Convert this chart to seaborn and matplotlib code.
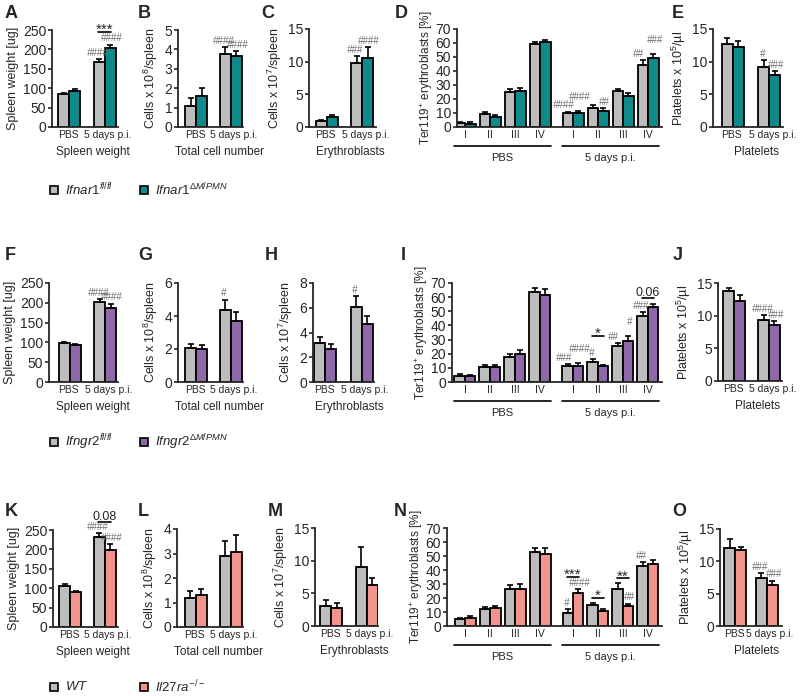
import numpy as np
import pandas as pd
import matplotlib
matplotlib.use("Agg")
import matplotlib.pyplot as plt
from matplotlib.patches import Rectangle
from matplotlib.transforms import blended_transform_factory, ScaledTranslation
import seaborn as sns

sns.set_style("ticks")
plt.rcParams["font.family"] = ["Liberation Sans", "DejaVu Sans"]
plt.rcParams["mathtext.fontset"] = "custom"
plt.rcParams["mathtext.rm"] = "Liberation Sans"
plt.rcParams["mathtext.it"] = "Liberation Sans:italic"
plt.rcParams["mathtext.default"] = "regular"

# ---------------- data (mean, sem) ----------------
groups = ["PBS", "5 days p.i."]
stages = ["I", "II", "III", "IV"]

# row 1 : Ifnar1
a_ctrl, a_ctrl_sem, a_ko, a_ko_sem = [85, 167], [3, 8], [94, 204], [5, 8]
b_ctrl, b_ctrl_sem, b_ko, b_ko_sem = [1.1, 3.75], [0.4, 0.35], [1.6, 3.65], [0.42, 0.25]
c_ctrl, c_ctrl_sem, c_ko, c_ko_sem = [0.9, 9.8], [0.2, 1.1], [1.5, 10.5], [0.3, 1.7]
d_ctrl = [3.0, 9.0, 25, 59, 10, 13.5, 26, 44.3]
d_ctrl_sem = [0.8, 2, 2.5, 1.5, 1, 2.5, 1.2, 3.5]
d_ko = [2.5, 6.8, 25.5, 61, 10.3, 11.5, 22.5, 49.5]
d_ko_sem = [0.8, 1.5, 2.5, 1.5, 1, 2, 1.5, 2.5]
e_ctrl, e_ctrl_sem, e_ko, e_ko_sem = [12.7, 9.2], [0.9, 1.0], [12.2, 8.0], [0.9, 0.6]

# row 2 : Ifngr2
f_ctrl, f_ctrl_sem, f_ko, f_ko_sem = [98, 201], [4, 8], [93, 188], [3, 10]
g_ctrl, g_ctrl_sem, g_ko, g_ko_sem = [2.05, 4.35], [0.25, 0.65], [2.0, 3.7], [0.25, 0.55]
h_ctrl, h_ctrl_sem, h_ko, h_ko_sem = [3.15, 6.1], [0.45, 0.85], [2.65, 4.7], [0.4, 0.65]
i_ctrl = [4.5, 10.5, 17.5, 63.5, 11, 14, 25.5, 47]
i_ctrl_sem = [1, 1.5, 2.5, 3, 1.5, 2, 2, 2.5]
i_ko = [4, 10.5, 19.5, 61.5, 11.5, 11, 29, 53]
i_ko_sem = [1, 1.5, 3, 4, 2, 1, 3.5, 2.5]
j_ctrl, j_ctrl_sem, j_ko, j_ko_sem = [13.8, 9.3], [0.5, 0.8], [12.3, 8.6], [0.8, 0.6]

# row 3 : Il27ra
k_ctrl, k_ctrl_sem, k_ko, k_ko_sem = [106, 231], [4, 10], [90, 199], [4, 14]
l_ctrl, l_ctrl_sem, l_ko, l_ko_sem = [1.2, 2.9], [0.25, 0.6], [1.3, 3.05], [0.27, 0.7]
m_ctrl, m_ctrl_sem, m_ko, m_ko_sem = [3.1, 9.1], [0.85, 3.0], [2.8, 6.3], [0.7, 1.1]
n_ctrl = [5, 12, 26.5, 53, 9.2, 15.2, 26.5, 42.8]
n_ctrl_sem = [1, 1.5, 2.5, 2.5, 3, 1.5, 4, 3]
n_ko = [6, 13, 26.5, 51.5, 23.3, 10.8, 14.4, 44.5]
n_ko_sem = [1.5, 1.5, 3.5, 4, 3, 1.2, 1.5, 2.5]
o_ctrl, o_ctrl_sem, o_ko, o_ko_sem = [12.1, 7.5], [1.3, 0.7], [11.7, 6.3], [0.5, 0.7]

# significance marks (# vs PBS, * between genotypes)
hash2_4 = (["", "####"], ["", "####"])
c_hash = (["", "###"], ["", "####"])
d_hash = (["", "", "", "", "####", "", "", "##"], ["", "", "", "", "####", "##", "", "###"])
e_hash = (["", "#"], ["", "###"])
g_hash = (["", "#"], ["", ""])
i_hash = (["", "", "", "", "###", "#", "##", "###"], ["", "", "", "", "####", "", "#", ""])
j_hash = (["", "####"], ["", "###"])
n_hash = (["", "", "", "", "#", "", "", "##"], ["", "", "", "", "####", "", "##", ""])
o_hash = (["", "###"], ["", "###"])

# ---------------- style ----------------
W, H = 800, 696
GRAY = "#bdbdbd"
TEAL = "#0e8a8b"
PURPLE = "#8e68a8"
SALMON = "#f2948d"
HASHC = "#6e6e6e"

fig = plt.figure(figsize=(8, 6.96), dpi=100)


def box(l, t, r, b):
    return fig.add_axes([l / W, 1 - b / H, (r - l) / W, (b - t) / H])


def style(ax, ymax, ystep, ylabel, pad=3, ylsize=9):
    ax.set_ylim(0, ymax)
    ax.set_yticks(np.arange(0, ymax + ystep / 2, ystep))
    ax.set_ylabel(ylabel, fontsize=ylsize, labelpad=pad)
    sns.despine(ax=ax)
    for s in ["left", "bottom"]:
        ax.spines[s].set_linewidth(1.3)
    ax.tick_params(axis="y", labelsize=10, length=3, width=1.2, pad=1.2)
    ax.tick_params(axis="x", length=0, pad=2.5, labelsize=7.5)


def bars(ax, x, ctrl, ctrl_sem, ko, ko_sem, color, width, native):
    df = pd.DataFrame({"x": list(x) * 2,
                       "geno": ["ctrl"] * len(x) + ["ko"] * len(x),
                       "val": list(ctrl) + list(ko)})
    sns.barplot(data=df, x="x", y="val", hue="geno", hue_order=["ctrl", "ko"],
                order=None if native else list(x), native_scale=native,
                palette=[GRAY, color], width=width, errorbar=None,
                edgecolor="black", linewidth=1.3, saturation=1, legend=False, ax=ax)
    conts = list(ax.containers)[:2]
    out = []
    for cont, err in zip(conts, [ctrl_sem, ko_sem]):
        cx = [b.get_x() + b.get_width() / 2 for b in cont]
        hs = [b.get_height() for b in cont]
        ax.errorbar(cx, hs, yerr=[np.zeros(len(err)), err], fmt="none", ecolor="black",
                    elinewidth=1.2, capsize=2.5, capthick=1.2, clip_on=False)
        out.append((cx, [h + e for h, e in zip(hs, err)]))
    return out


def marks(ax, tops, hashes, close):
    (cx0, t0), (cx1, t1) = tops
    for i in range(len(cx0)):
        both = hashes[0][i] and hashes[1][i] and abs(t1[i] - t0[i]) < close
        if hashes[0][i]:
            ax.annotate(hashes[0][i], (cx0[i], t0[i]), xytext=(-3 if both else -1, 4.5),
                        textcoords="offset points", ha="center", va="center", fontsize=7,
                        color=HASHC, style="italic", annotation_clip=False)
        if hashes[1][i]:
            ax.annotate(hashes[1][i], (cx1[i], t1[i]), xytext=(1, 10 if both else 4.5),
                        textcoords="offset points", ha="center", va="center", fontsize=7,
                        color=HASHC, style="italic", annotation_clip=False)


def bracket(ax, tops, idx, label, y):
    (cx0, _), (cx1, _) = tops
    x0, x1 = cx0[idx], cx1[idx]
    ax.plot([x0 - 0.04, x1 + 0.02], [y, y], color="black", lw=1.2, clip_on=False)
    digit = label[0].isdigit()
    ax.annotate(label, ((x0 + x1) / 2, y), xytext=(0, 1.5 if digit else -1.5),
                textcoords="offset points", ha="center", va="baseline",
                fontsize=9 if digit else 11, annotation_clip=False)


def two_group(lay, ctrl, ctrl_sem, ko, ko_sem, color, ymax, ystep, ylabel, xlabel,
              hashes=None, brackets=()):
    left, pc, dc, right, top, bot = lay
    unit = dc - pc
    ax = box(left, top, right, bot)
    tops = bars(ax, groups, ctrl, ctrl_sem, ko, ko_sem, color, 22 / unit, False)
    ax.set_xlim(-(pc - left) / unit, 1 + (right - dc) / unit)
    style(ax, ymax, ystep, ylabel)
    ax.set_xlabel(xlabel, fontsize=8.5)
    ax.xaxis.set_label_coords(((pc + dc) / 2 + 6 - left) / (right - left), -25 / (bot - top))
    ax.xaxis.label.set_va("center")
    # the long label sits a little right of its bars
    labs = ax.get_xticklabels()
    labs[0].set_transform(labs[0].get_transform() + ScaledTranslation(-0.01, 0, fig.dpi_scale_trans))
    labs[1].set_transform(labs[1].get_transform() + ScaledTranslation(0.035, 0, fig.dpi_scale_trans))
    if hashes:
        marks(ax, tops, hashes, 0)
    for idx, lab, y in brackets:
        bracket(ax, tops, idx, lab, y)
    return ax


def stage_panel(left, top, bot, ctrl, ctrl_sem, ko, ko_sem, color, hashes, brackets=()):
    pos = [0, 1, 2, 3, 4.32, 5.32, 6.32, 7.32]
    ax = box(left, top, 662, bot)
    tops = bars(ax, pos, ctrl, ctrl_sem, ko, ko_sem, color, 0.84, True)
    ax.set_xlim((left - 465) / 25, 7.32 + 14 / 25)
    style(ax, 70, 10, "Ter119$^{+}$ erythroblasts [%]", pad=0.5, ylsize=8.5)
    ax.set_xticks(pos)
    ax.set_xticklabels(stages * 2)
    ax.set_xlabel("")
    marks(ax, tops, hashes, 6)
    for idx, lab, y in brackets:
        bracket(ax, tops, idx, lab, y)
    hpx = bot - top
    tr = blended_transform_factory(ax.transData, ax.transAxes)
    for start, lab in [(0, "PBS"), (4.32, "5 days p.i.")]:
        ax.plot([start - 0.45, start + 3.45], [-19 / hpx] * 2, color="black", lw=1.2,
                transform=tr, clip_on=False)
        ax.text(start + 1.5, -31 / hpx, lab, transform=tr, ha="center", va="center", fontsize=8)
    return ax


def legend_row(yc, lab1, lab2, color):
    for x, lab, c in [(50, lab1, GRAY), (140, lab2, color)]:
        fig.add_artist(Rectangle((x / W, 1 - (yc + 4) / H), 8 / W, 8 / H, transform=fig.transFigure,
                                 facecolor=c, edgecolor="black", lw=1.2))
        fig.text((x + 15) / W, 1 - yc / H, lab, fontsize=9.5, va="center", ha="left")


def letter(x, y, s):
    fig.text(x / W, 1 - y / H, s, fontsize=13, fontweight="bold", va="center", ha="left")


# ---------------- row 1 ----------------
two_group((52, 69, 104.5, 118, 30, 127), a_ctrl, a_ctrl_sem, a_ko, a_ko_sem, TEAL, 250, 50,
          "Spleen weight [ug]", "Spleen weight", hash2_4, [(1, "***", 245)])
two_group((178, 196, 230.5, 243, 30, 127), b_ctrl, b_ctrl_sem, b_ko, b_ko_sem, TEAL, 5, 1,
          "Cells x 10$^{8}$/spleen", "Total cell number", hash2_4)
two_group((309, 326.5, 362, 376, 29, 127), c_ctrl, c_ctrl_sem, c_ko, c_ko_sem, TEAL, 15, 5,
          "Cells x 10$^{7}$/spleen", "Erythroblasts", c_hash)
stage_panel(457, 29, 127, d_ctrl, d_ctrl_sem, d_ko, d_ko_sem, TEAL, d_hash)
two_group((713, 732.5, 769, 783, 29, 127), e_ctrl, e_ctrl_sem, e_ko, e_ko_sem, TEAL, 15, 5,
          "Platelets x 10$^{5}$/µl", "Platelets", e_hash)

# ---------------- row 2 ----------------
two_group((49, 69.5, 105, 118, 283, 382), f_ctrl, f_ctrl_sem, f_ko, f_ko_sem, PURPLE, 250, 50,
          "Spleen weight [ug]", "Spleen weight", hash2_4)
two_group((178, 196, 230.5, 243, 283, 382), g_ctrl, g_ctrl_sem, g_ko, g_ko_sem, PURPLE, 6, 2,
          "Cells x 10$^{8}$/spleen", "Total cell number", g_hash)
two_group((313, 325, 361.5, 374, 283, 382), h_ctrl, h_ctrl_sem, h_ko, h_ko_sem, PURPLE, 8, 2,
          "Cells x 10$^{7}$/spleen", "Erythroblasts", g_hash)
stage_panel(452, 283, 382, i_ctrl, i_ctrl_sem, i_ko, i_ko_sem, PURPLE, i_hash,
            [(5, "*", 32.5), (7, "0.06", 59.5)])
two_group((718, 734, 769, 782, 283, 381), j_ctrl, j_ctrl_sem, j_ko, j_ko_sem, PURPLE, 15, 5,
          "Platelets x 10$^{5}$/µl", "Platelets", j_hash)

# ---------------- row 3 ----------------
two_group((53, 70, 104.5, 118, 530, 627), k_ctrl, k_ctrl_sem, k_ko, k_ko_sem, SALMON, 250, 50,
          "Spleen weight [ug]", "Spleen weight", hash2_4, [(1, "0.08", 270)])
two_group((177, 195.5, 230.5, 243, 529, 627), l_ctrl, l_ctrl_sem, l_ko, l_ko_sem, SALMON, 4, 1,
          "Cells x 10$^{8}$/spleen", "Total cell number")
two_group((315, 331, 366.5, 378, 528, 626), m_ctrl, m_ctrl_sem, m_ko, m_ko_sem, SALMON, 15, 5,
          "Cells x 10$^{7}$/spleen", "Erythroblasts")
stage_panel(447, 528, 626, n_ctrl, n_ctrl_sem, n_ko, n_ko_sem, SALMON, n_hash,
            [(4, "***", 35), (5, "*", 20), (6, "**", 34)])
two_group((720, 735, 766.5, 782, 529, 626), o_ctrl, o_ctrl_sem, o_ko, o_ko_sem, SALMON, 15, 5,
          "Platelets x 10$^{5}$/µl", "Platelets", o_hash)

# legends
legend_row(190, r"$\mathit{Ifnar1}^{\mathit{fl/fl}}$", r"$\mathit{Ifnar1}^{\mathit{\Delta M/PMN}}$", TEAL)
legend_row(442, r"$\mathit{Ifngr2}^{\mathit{fl/fl}}$", r"$\mathit{Ifngr2}^{\mathit{\Delta M/PMN}}$", PURPLE)
legend_row(687, r"$\mathit{WT}$", r"$\mathit{Il27ra}^{\mathit{-/-}}$", SALMON)

# panel letters
for x, y, s in [(5, 14, "A"), (138, 14, "B"), (261, 14, "C"), (395, 14, "D"), (672, 14, "E"),
                (5, 256, "F"), (138, 256, "G"), (265, 256, "H"), (401, 256, "I"), (673, 256, "J"),
                (5, 511, "K"), (138, 511, "L"), (268, 511, "M"), (394, 511, "N"), (672, 511, "O")]:
    letter(x, y, s)

fig.savefig("out.png", dpi=100)
